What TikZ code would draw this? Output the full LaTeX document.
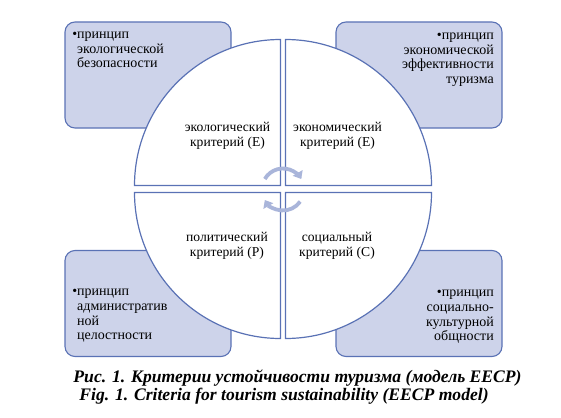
\documentclass[tikz,border=0pt]{standalone}
\usepackage{fontspec}
\setmainfont{Liberation Serif}
\usepackage{tikz}
\usetikzlibrary{arrows.meta, calc}
\definecolor{edgeblue}{HTML}{5A72B5}
\definecolor{boxfill}{HTML}{CDD3EA}
\definecolor{cyclegray}{HTML}{A9B5DA}

\begin{document}
\begin{tikzpicture}[
  x=1pt, y=-1pt,
  font=\fontsize{14}{14.6}\selectfont,
  principle/.style={draw=edgeblue, line width=1.1pt, rounded corners=10pt, fill=boxfill, minimum width=166pt, minimum height=106pt},
  sector/.style={draw=edgeblue, line width=1.2pt, fill=white},
  ptext/.style={inner sep=0pt},
  crit/.style={align=center, inner sep=0pt, font=\fontsize{13.6}{15}\selectfont},
  cyc/.style={-{Triangle[length=7pt, width=11pt]}, cyclegray, line width=3.8pt},
  caption/.style={inner sep=0pt, font=\fontsize{17.6}{19}\selectfont\bfseries\itshape}
]
\useasboundingbox (0,0) rectangle (561,417);

\node[principle] (pEco) at (148,75) {};
\node[principle] (pEcon) at (419,75) {};
\node[principle] (pPol) at (148,303.5) {};
\node[principle] (pSoc) at (419,303.5) {};

\draw[sector] (280.5,185.5) -- ++(-146,0) arc[start angle=180, end angle=270, radius=146] -- cycle;
\draw[sector] (285.5,185.5) -- ++(0,-146) arc[start angle=270, end angle=360, radius=146] -- cycle;
\draw[sector] (285.5,192.5) -- ++(146,0) arc[start angle=0, end angle=90, radius=146] -- cycle;
\draw[sector] (280.5,192.5) -- ++(0,146) arc[start angle=90, end angle=180, radius=146] -- cycle;

\node[ptext, anchor=north west, align=left] (tEco) at (77,32) {\llap{\textbullet}принцип\\экологической\\безопасности};
\node[ptext, anchor=north east, align=right] (tEcon) at (494,33) {\llap{\textbullet}принцип\\экономической\\эффективности\\туризма};
\node[ptext, anchor=north west, align=left] (tPol) at (77,289) {\llap{\textbullet}принцип\\административ\\ной\\целостности};
\node[ptext, anchor=north east, align=right] (tSoc) at (494,290) {\llap{\textbullet}принцип\\социально-\\культурной\\общности};

\node[crit] (cEco) at (227.5,135.5) {экологический\\критерий (E)};
\node[crit] (cEcon) at (337.5,135.5) {экономический\\критерий (E)};
\node[crit] (cPol) at (227,246) {политический\\критерий (P)};
\node[crit] (cSoc) at (337,246) {социальный\\критерий (C)};

\coordinate (hub) at (283,189.5);
\draw[cyc] ($(hub)+(-150:21)$) arc[start angle=-150, end angle=-30, radius=21];
\draw[cyc] ($(hub)+(35:21)$) arc[start angle=35, end angle=150, radius=21];

\node[caption] (capRu) at (297.5,378) {Рис. 1. Критерии устойчивости туризма (модель EECP)};
\node[caption] (capEn) at (284,396) {Fig. 1. Criteria for tourism sustainability (EECP model)};
\end{tikzpicture}
\end{document}
